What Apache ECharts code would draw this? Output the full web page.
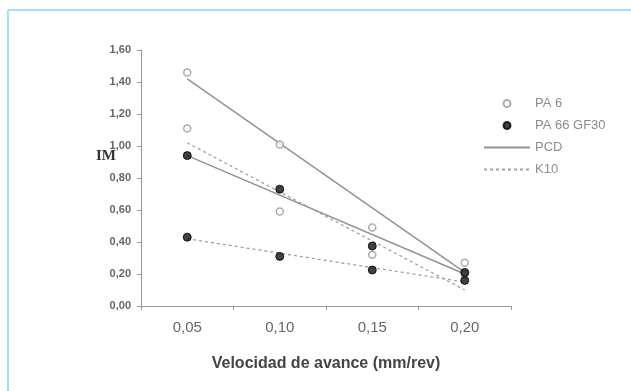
<!DOCTYPE html>
<html>
<head>
<meta charset="utf-8">
<script src="https://cdn.jsdelivr.net/npm/echarts@6/dist/echarts.min.js"></script>
<style>html,body{margin:0;padding:0;background:#fff;}#c{width:631px;height:391px;}</style>
</head>
<body>
<div id="c"></div>
<script>
var categories = ['0,05', '0,10', '0,15', '0,20'];
// PA 6 (open circles): PCD and K10 measurements per category
var pa6Pcd = [1.46, 1.01, 0.49, 0.27];
var pa6K10 = [1.11, 0.59, 0.32, 0.20];
// PA 66 GF30 (filled): PCD and K10
var pa66Pcd = [0.94, 0.73, 0.375, 0.21];
var pa66K10 = [0.43, 0.31, 0.225, 0.16];
// Trend lines (start at 0,05 / end at 0,20)
var pa6PcdLine = [1.42, 0.21];
var pa6K10Line = [1.02, 0.10];
var pa66PcdLine = [0.94, 0.20];
var pa66K10Line = [0.42, 0.15];

function pts(arr) { return arr.map(function (v, i) { return [i, v]; }); }
function line(se) { return [[0, se[0]], [3, se[1]]]; }

var chart = echarts.init(document.getElementById('c'));
var lineGray = '#929292';
chart.setOption({
  animation: false,
  backgroundColor: '#fff',
  grid: { left: 141, right: 120, top: 50, bottom: 85 },
  xAxis: {
    type: 'category', data: categories, boundaryGap: true,
    name: 'Velocidad de avance (mm/rev)', nameLocation: 'middle', nameGap: 50,
    nameTextStyle: { fontFamily: 'Arial, Liberation Sans', fontWeight: 'bold', fontSize: 16, color: '#444' },
    axisLine: { lineStyle: { color: '#999', width: 1 } },
    axisTick: { show: true, length: 4, lineStyle: { color: '#999' } },
    axisLabel: { color: '#666', fontSize: 15, fontFamily: 'Arial, Liberation Sans', margin: 14 },
    splitLine: { show: false }
  },
  yAxis: {
    type: 'value', min: 0, max: 1.6, interval: 0.2,
    axisLine: { show: true, lineStyle: { color: '#999', width: 1 } },
    axisTick: { show: true, length: 4, lineStyle: { color: '#999' } },
    axisLabel: { color: '#666', fontSize: 11, fontFamily: 'Arial, Liberation Sans', fontWeight: 'bold', margin: 10,
      formatter: function (v) { return v.toFixed(2).replace('.', ','); } },
    splitLine: { show: false }
  },
  legend: {
    orient: 'vertical', left: 478, top: 92, itemWidth: 46, itemHeight: 7, itemGap: 9,
    textStyle: { color: '#8c8c8c', fontSize: 13, fontFamily: 'Arial, Liberation Sans' },
    data: ['PA 6', 'PA 66 GF30',
      { name: 'PCD', itemStyle: { opacity: 0 } },
      { name: 'K10', itemStyle: { opacity: 0 } }]
  },
  graphic: [
    { type: 'line', shape: { x1: 8, y1: 10, x2: 631, y2: 10 }, style: { stroke: '#a6def2', lineWidth: 2 } },
    { type: 'line', shape: { x1: 8, y1: 10, x2: 8, y2: 391 }, style: { stroke: '#a6def2', lineWidth: 2 } },
    { type: 'text', left: 96, top: 149, style: { text: 'IM', font: 'bold 15px "Liberation Serif", "Times New Roman", serif', fill: '#333' } }
  ],
  series: [
    { name: 'PCD', type: 'line', data: line(pa6PcdLine), symbol: 'none', lineStyle: { color: lineGray, width: 1.5 }, itemStyle: { color: lineGray }, z: 2 },
    { name: 'PCD', type: 'line', data: line(pa66PcdLine), symbol: 'none', lineStyle: { color: lineGray, width: 1.5 }, itemStyle: { color: lineGray }, z: 2 },
    { name: 'K10', type: 'line', data: line(pa6K10Line), symbol: 'none', lineStyle: { color: '#a0a0a0', width: 1.3, type: [3, 3] }, itemStyle: { color: '#a0a0a0' }, z: 2 },
    { name: 'K10', type: 'line', data: line(pa66K10Line), symbol: 'none', lineStyle: { color: '#a0a0a0', width: 1.3, type: [3, 3] }, itemStyle: { color: '#a0a0a0' }, z: 2 },
    { name: 'PA 6', type: 'scatter', data: pts(pa6Pcd).concat(pts(pa6K10)), symbol: 'circle', symbolSize: 7,
      itemStyle: { color: '#fff', borderColor: '#999', borderWidth: 1.5 }, z: 3 },
    { name: 'PA 66 GF30', type: 'scatter', data: pts(pa66Pcd).concat(pts(pa66K10)), symbol: 'circle', symbolSize: 8,
      itemStyle: { color: '#111', borderColor: '#000', borderWidth: 1 }, z: 4 }
  ]
});
</script>
</body>
</html>
